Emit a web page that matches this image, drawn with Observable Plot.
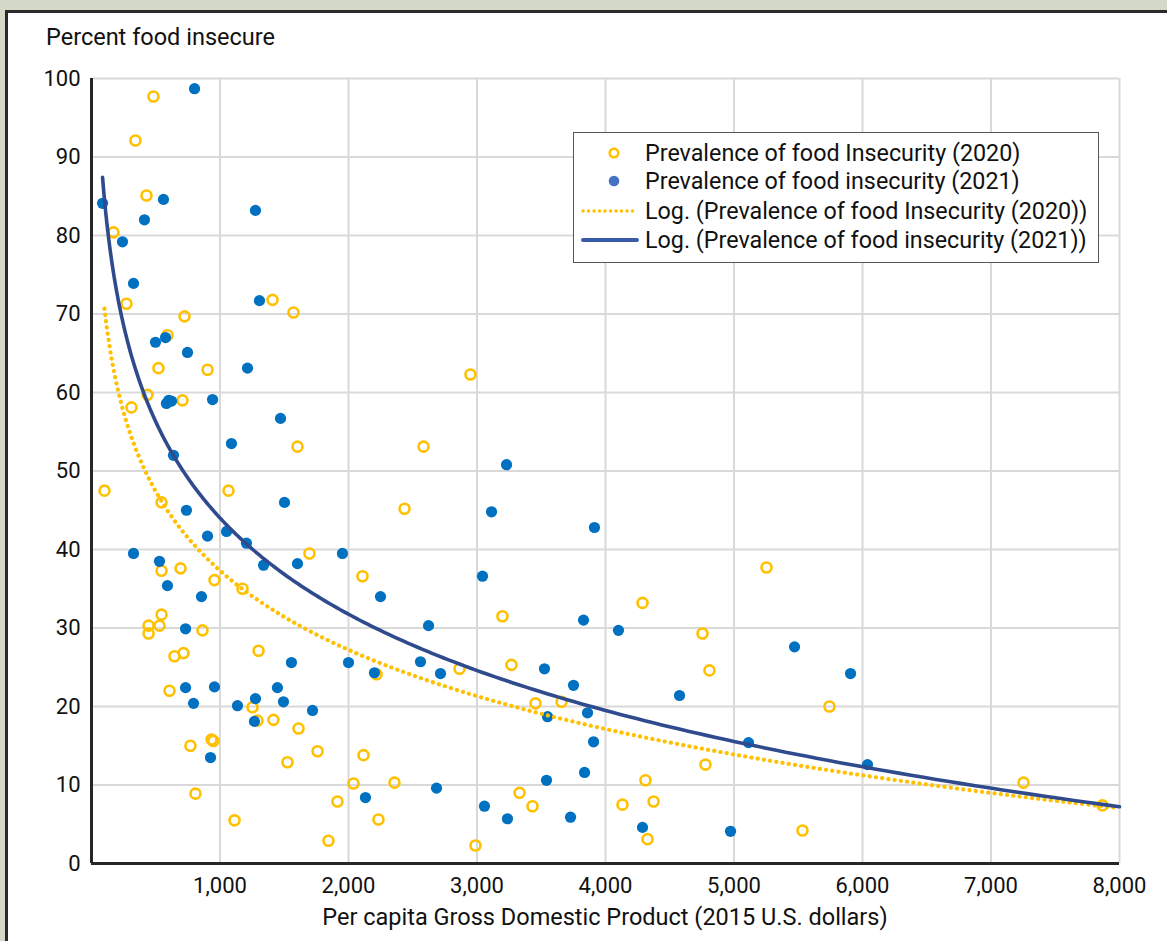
<!DOCTYPE html>
<html><head><meta charset="utf-8">
<script src="https://cdn.jsdelivr.net/npm/d3@7"></script>
<script src="https://cdn.jsdelivr.net/npm/@observablehq/plot@0.6"></script>
<style>
body{margin:0;background:#d3d9c6;width:1167px;height:941px;overflow:hidden;position:relative;font-family:Roboto,sans-serif;}
#panel{position:absolute;left:5px;top:10px;width:1200px;height:1000px;background:#fff;border:3px solid #2a2a2a;}
#chart{position:absolute;left:0;top:0;}
.title{position:absolute;left:46px;top:24px;font-size:23.5px;line-height:27px;color:#111;white-space:nowrap;}
.xtitle{position:absolute;left:91px;width:1028px;text-align:center;top:904px;font-size:23.5px;line-height:27px;color:#111;white-space:nowrap;}
#legend{position:absolute;left:573px;top:132px;}
</style></head>
<body>
<div id="panel"></div>
<div id="chart"></div>
<div class="title">Percent food insecure</div>
<div class="xtitle">Per capita Gross Domestic Product (2015 U.S. dollars)</div>
<div id="legend"></div>
<script>
// Per capita GDP (2015 US$) and percent food insecure, 2020
const gdp2020 = [482,342,428,171,272,724,591,521,903,436,311,708,101,545,1066,693,545,957,1175,545,444,529,444,864,646,716,607,1253,1292,1416,1611,770,934,949,1525,1759,2117,2039,1914,809,1113,1844,2233,1409,1572,1603,1696,2109,1300,2949,2584,2436,4288,3198,3268,2864,2218,3455,3658,2358,3331,3432,2988,4311,4132,4374,4327,5253,4755,4809,5743,4778,5533,7253,7868];
const fi2020 = [97.7,92.1,85.1,80.4,71.3,69.7,67.3,63.1,62.9,59.7,58.1,59.0,47.5,46.0,47.5,37.6,37.3,36.1,35.0,31.7,30.3,30.3,29.3,29.7,26.4,26.8,22.0,19.9,18.2,18.3,17.2,15.0,15.8,15.6,12.9,14.3,13.8,10.2,7.9,8.9,5.5,2.9,5.6,71.8,70.2,53.1,39.5,36.6,27.1,62.3,53.1,45.2,33.2,31.5,25.3,24.8,24.1,20.4,20.6,10.3,9.0,7.3,2.3,10.6,7.5,7.9,3.1,37.7,29.3,24.6,20.0,12.6,4.2,10.3,7.4];
// 2021
const gdp2021 = [802,86,560,412,241,327,1276,1307,498,576,747,1214,942,583,600,623,1471,1089,638,739,1502,903,1051,1206,327,529,1339,1603,1953,591,856,2249,732,1556,2000,2202,732,957,794,1136,1276,1447,1494,1720,1268,926,2132,2623,2560,2716,3829,4101,3525,3751,3860,3549,3907,2685,3541,3837,3058,3237,3728,4288,3230,3113,3914,3043,4576,5471,5907,5113,6039,4973];
const fi2021 = [98.7,84.1,84.6,82.0,79.2,73.9,83.2,71.7,66.4,67.0,65.1,63.1,59.1,58.6,59.0,58.9,56.7,53.5,52.0,45.0,46.0,41.7,42.3,40.8,39.5,38.5,38.0,38.2,39.5,35.4,34.0,34.0,29.9,25.6,25.6,24.3,22.4,22.5,20.4,20.1,21.0,22.4,20.6,19.5,18.1,13.5,8.4,30.3,25.7,24.2,31.0,29.7,24.8,22.7,19.2,18.7,15.5,9.6,10.6,11.6,7.3,5.7,5.9,4.6,50.8,44.8,42.8,36.6,21.4,27.6,24.2,15.4,12.6,4.1];
const xTicks = [1000,2000,3000,4000,5000,6000,7000,8000];
const yTicks = [0,10,20,30,40,50,60,70,80,90,100];
const xMax = 8000;

const pts2020 = gdp2020.map((x,i)=>({x, y: fi2020[i]}));
const pts2021 = gdp2021.map((x,i)=>({x, y: fi2021[i]}));

// Logarithmic least-squares trendline (as Excel's "Log." trendline), computed from the data
function logTrend(pts){
  const lx = pts.map(p=>Math.log(p.x)), ys = pts.map(p=>p.y);
  const mx = d3.mean(lx), my = d3.mean(ys);
  let sxy=0, sxx=0;
  lx.forEach((v,i)=>{sxy+=(v-mx)*(ys[i]-my); sxx+=(v-mx)*(v-mx);});
  const b = sxy/sxx, a = my - b*mx;
  const x0 = d3.min(pts,p=>p.x);
  const n = 300;
  return d3.range(n+1).map(i=>{const x = x0*Math.pow(xMax/x0, i/n); return {x, y: a + b*Math.log(x)};});
}
const trend2020 = logTrend(pts2020);
const trend2021 = logTrend(pts2021);

const C20 = "#FFC000", C21 = "#0070C0", CL21 = "#2F4B8E";

const chart = Plot.plot({
  width:1167, height:941,
  marginLeft:91, marginRight:48, marginTop:78, marginBottom:78,
  style:{background:"transparent", fontFamily:"Roboto, sans-serif", fontSize:"22px", color:"#111", overflow:"visible"},
  x:{domain:[0,8000]},
  y:{domain:[0,100]},
  marks:[
    Plot.ruleX(xTicks,{stroke:"#d9d9d9", strokeWidth:2}),
    Plot.ruleY(yTicks.filter(d=>d>0),{stroke:"#d9d9d9", strokeWidth:2}),
    Plot.axisX(xTicks,{tickSize:0, tickPadding:14, tickFormat:d3.format(","), label:null, fontSize:22}),
    Plot.axisY(yTicks,{tickSize:0, tickPadding:11, label:null, fontSize:22}),
    Plot.ruleX([0],{stroke:"#262626", strokeWidth:3}),
    Plot.ruleY([0],{stroke:"#262626", strokeWidth:3}),
    Plot.dot(pts2020,{x:"x", y:"y", r:5, stroke:C20, strokeWidth:2.6, fill:"none"}),
    Plot.dot(pts2021,{x:"x", y:"y", r:5.6, fill:C21, stroke:"none"}),
    Plot.line(trend2020,{x:"x", y:"y", stroke:C20, strokeWidth:4.2, strokeDasharray:"0.1 6.2", strokeLinecap:"round"}),
    Plot.line(trend2021,{x:"x", y:"y", stroke:CL21, strokeWidth:3.6})
  ]
});
document.getElementById("chart").appendChild(chart);

// Legend
const legendItems = ["Prevalence of food Insecurity (2020)","Prevalence of food insecurity (2021)","Log. (Prevalence of food Insecurity (2020))","Log. (Prevalence of food insecurity (2021))"];
const W=526, H=131;
const lg = d3.create("svg").attr("width",W).attr("height",H).style("font-family","Roboto, sans-serif");
lg.append("rect").attr("x",0.5).attr("y",0.5).attr("width",W-1).attr("height",H-1).attr("fill","#fff").attr("stroke","#555").attr("stroke-width",1);
const rowY = [21,49,79,108];
lg.append("circle").attr("cx",41).attr("cy",rowY[0]).attr("r",4.3).attr("fill","none").attr("stroke",C20).attr("stroke-width",2.6);
lg.append("circle").attr("cx",41).attr("cy",rowY[1]).attr("r",5.3).attr("fill","#4472C4");
lg.append("line").attr("x1",10).attr("x2",64).attr("y1",rowY[2]).attr("y2",rowY[2]).attr("stroke",C20).attr("stroke-width",3.4).attr("stroke-dasharray","0.1 5.4").attr("stroke-linecap","round");
lg.append("line").attr("x1",10).attr("x2",64).attr("y1",rowY[3]).attr("y2",rowY[3]).attr("stroke","#3A5BA8").attr("stroke-width",4).attr("stroke-linecap","round");
legendItems.forEach((t,i)=>{
  lg.append("text").attr("x",72).attr("y",rowY[i]).attr("dy","0.36em").attr("font-size",23.3).attr("fill","#111").text(t);
});
document.getElementById("legend").appendChild(lg.node());
</script>
</body></html>
